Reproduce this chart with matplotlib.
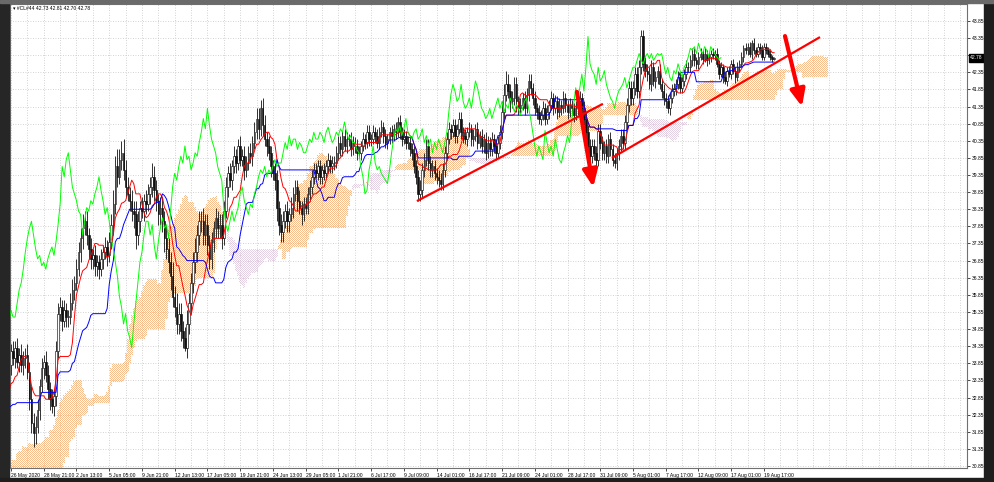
import numpy as np
import pandas as pd
import matplotlib
matplotlib.use('Agg')
import matplotlib.pyplot as plt
from matplotlib.patches import Rectangle

# ---------------- data ----------------
# off-screen history (bars -78..-1) needed to seed the Ichimoku lines at the left edge
pre_close = [24.8, 25.1, 24.9, 25.3, 25.6, 25.2, 24.9, 25.4, 25.8, 26.1, 25.7, 25.3,
             25.0, 24.7, 25.2, 25.6, 25.4, 25.9, 26.3, 26.0, 25.7, 26.2, 26.6, 27.1,
             27.5, 27.2, 27.8, 28.3, 28.0, 28.7, 29.2, 29.0, 29.6, 30.1, 29.8, 30.3, 30.7, 30.4, 30.9,
             31.3, 30.9, 31.5, 31.8, 31.4, 31.9, 32.2, 31.8, 31.5, 31.9, 32.3, 32.0, 31.7, 32.1,
             31.8, 31.6, 31.9, 31.7,
             31.5, 31.8, 31.4, 31.6, 31.3, 31.5, 31.2, 31.0, 31.3, 31.1,
             31.6, 32.0, 32.4, 32.3, 32.8, 32.6, 33.1, 33.5, 33.9, 34.1, 33.8]
pre_wick_up = [.3, .2, .3, .2, .3, .2, .3, .2, .3, .2, .3, .2,
               .3, .2, .3, .2, .3, .2, .3, .2, .3, .2, .3, .2,
               .3, .2, .3, .2, .3, .2, .3, .2, .3, .2, .3, .2,
               .3, .2, .3, .2, .3, .2, .3, .2, .3, .2, .3, .2,
               .3, .2, .3, .2, .3, .2, .3, .2, .3, .2, .3, .2,
               .2, .2, .2, .2, .2, .2, .2, .2, .2, .2,
               .2, .2, .2, .2, .2, .2, .2, .2]
pre_wick_dn = [.2, .3, .2, .3, .2, .3, .2, .3, .2, .3, .2, .3,
               .2, .3, .2, .3, .2, .3, .2, .3, .2, .3, .2, .3,
               .2, .3, .2, .3, .2, .3, .2, .3, .2, .3, .2, .3,
               .2, .3, .2, .3, .2, .3, .2, .3, .2, .3, .2, .3,
               .2, .3, .2, .3, .2, .3, .2, .3, .2, .3, .2, .3,
               .2, .2, .2, .2, .2, .2, .3, .1, .1, .2,
               .2, .2, .2, .2, .2, .2, .2, .2]
first_open = 24.6

# visible H4 bars, 26 May 2020 .. 20 Aug 2020
close = [34.2, 34.0, 34.3, 33.9, 34.1, 33.8, 34.0, 34.1,
         33.6, 32.8, 32.1, 31.8, 32.0,
         32.5, 33.2, 33.7, 33.9, 33.5,
         33.1, 32.8, 32.6, 32.9,
         34.2, 35.3, 35.5,
         35.1, 35.4, 35.2,
         35.2, 35.6, 36.0, 36.2, 36.6, 37.1, 37.5, 37.8, 38.0, 37.6, 37.2,
         36.9, 37.0, 36.7, 36.8, 36.6, 36.9, 37.1, 37.25, 37.0, 37.4, 37.9,
         38.5, 39.6, 39.3, 39.8, 40.0, 39.5, 39.0, 38.8, 38.6, 38.3, 38.2,
         37.6, 38.0, 38.4, 38.3, 38.6, 38.5, 38.8, 39.0, 39.3, 38.9,
         38.6, 38.2, 38.4, 38.0, 37.5, 37.2, 36.8, 36.4, 35.8, 35.5,
         35.0, 35.3, 34.8, 34.6, 34.3, 35.0, 35.6, 36.2, 36.8, 37.1, 37.6, 38.0,
         38.0, 37.6, 37.9, 37.3, 36.9, 37.4, 37.8, 38.1, 37.8, 37.9, 37.5, 38.3,
         39.0, 39.4, 39.2, 39.6, 39.9, 39.7, 40.2, 39.8, 39.9,
         39.5, 39.7, 40.0, 39.9, 40.3, 40.6,
         41.0, 40.7, 41.3, 40.8, 40.4,
         40.2, 40.0, 39.6, 39.4, 39.2,
         38.4, 37.9, 37.7, 38.0, 38.3, 38.0, 38.2,
         38.4, 38.8, 39.0, 38.6, 38.4, 38.2, 38.5, 38.4, 38.8, 39.0,
         39.3, 39.5, 39.4, 39.6, 39.3, 39.5, 39.4, 39.6, 39.8, 39.6, 39.7,
         39.7, 40.0, 40.3, 40.1, 40.5, 40.2, 40.4, 40.4,
         40.1, 40.3, 40.2, 40.0, 40.0, 40.2, 40.4, 40.3, 40.6, 40.4,
         40.4, 40.6, 40.5, 40.3, 40.6, 40.75, 40.5, 40.3, 40.4, 40.6,
         40.5, 40.7, 40.6, 40.9, 40.6, 40.4, 40.5, 40.3, 40.3, 40.1,
         40.0, 39.6, 39.3, 38.8, 38.9,
         39.5, 39.8, 40.2, 39.7, 39.5, 39.6, 39.4, 39.3, 39.2, 39.1, 39.5,
         40.0, 40.4, 40.7, 40.6, 40.8, 40.5, 40.7, 41.0, 40.6, 40.5, 40.4,
         40.6, 40.7, 40.4, 40.5, 40.7, 40.3, 40.5, 40.2, 40.4, 40.0, 40.3, 40.1, 40.4,
         40.2, 40.0, 40.3, 40.6,
         41.2, 41.7, 42.0, 41.8, 41.5,
         41.6, 42.0, 41.5, 41.3, 41.4, 41.6, 41.3, 41.7, 42.1,
         41.9, 41.6, 41.3,
         41.2, 41.0, 41.1, 41.3, 41.0, 41.2, 41.4,
         41.6, 41.3, 41.5, 41.2, 41.4, 41.3, 41.6, 41.4, 41.2, 41.4, 41.3, 41.1, 41.3,
         41.5, 41.6, 41.3, 41.0, 40.6,
         40.2, 39.9, 40.2, 40.0, 39.8,
         40.65, 40.3, 40.0, 40.2, 39.9, 40.4, 40.1, 39.8, 39.7, 40.0,
         40.2, 40.5, 40.3, 40.9, 41.4, 41.9,
         41.6, 41.9, 42.3, 41.8, 42.5,
         43.4, 42.6, 42.4,
         42.3, 42.0, 42.5, 42.1, 42.2, 42.4, 42.0, 41.8, 41.6,
         41.5, 41.3, 41.6, 41.8, 41.9,
         42.0, 42.2, 41.9, 42.1, 42.3, 42.5,
         42.5, 42.7, 42.9, 42.7, 42.6, 42.8, 42.9,
         42.75, 42.9, 42.7, 42.8, 42.9, 42.85, 42.9, 42.6,
         42.3, 42.5, 42.2, 42.1, 42.4, 42.3, 42.6, 42.4, 42.2,
         42.5, 42.6, 42.8, 43.05,
         43.0, 43.1, 42.9, 43.2, 43.0,
         42.9, 43.1, 43.0, 42.8, 43.1, 43.0, 42.9, 42.8, 42.73, 42.78]

wick_up = [.2, .3, .2, .3, .2, .3, .2, .2, .3, .3, .4, .3, .3, .3, .2, .3, .2, .3, .3, .2,
           .3, .2, .3, .3, .3, .2, .3, .2, .2, .3, .3, .2, .3, .3, .3, .4, .3, .3, .2, .3,
           .2, .3, .2, .2, .3, .2, .3, .2, .3, .3, .4, .3, .5, .3, .35, .4, .3, .3, .2, .3,
           .3, .4, .3, .2, .3, .2, .3, .3, .3, .4, .3, .3, .2, .3, .3, .3, .4, .3, .3, .4,
           .3, .4, .3, .3, .3, .3, .4, .3, .3, .3, .4, .3, .3, .3, .4, .3, .3, .3, .3, .2,
           .3, .2, .3, .3, .3, .3, .2, .3, .2, .3, .2, .2, .3, .2, .3, .2, .2, .3, .2, .3,
           .3, .3, .25, .3, .3, .2, .3, .2, .2, .3, .3, .2, .3, .3, .2, .3, .2, .3, .2, .2,
           .2, .3, .2, .2, .2, .2, .2, .2, .2, .2, .2, .2, .15, .2, .2, .2, .15, .2, .2, .2,
           .2, .2, .15, .2, .2, .15, .2, .2, .15, .2, .2, .15, .2, .15, .2, .2, .15, .2, .15, .2,
           .15, .2, .15, .2, .15, .15, .2, .15, .2, .15, .2, .15, .2, .15, .2, .2, .2, .2, .2, .2,
           .3, .2, .2, .2, .2, .2, .2, .2, .15, .2, .2, .2, .2, .2, .2, .15, .2, .2, .15, .2,
           .2, .15, .2, .15, .2, .15, .2, .15, .2, .15, .2, .15, .2, .2, .15, .2, .15, .2, .2, .2,
           .3, .3, .4, .3, .2, .2, .2, .2, .15, .2, .15, .2, .2, .2, .2, .15, .2, .15, .2, .15,
           .2, .15, .2, .15, .2, .15, .2, .15, .2, .15, .2, .15, .15, .2, .15, .15, .2, .15, .2, .15,
           .2, .2, .2, .2, .2, .2, .2, .2, .2, .2, .15, .2, .15, .2, .15, .2, .15, .2, .2, .2,
           .2, .2, .2, .2, .2, .2, .2, .2, .2, .2, .2, .2, .2, .2, .15, .2, .15, .2, .15, .2,
           .15, .2, .15, .2, .15, .15, .2, .15, .15, .15, .2, .15, .15, .15, .15, .1, .15, .15, .1, .15,
           .1, .15, .1, .15, .1, .15, .1, .15, .1, .15, .1, .15, .1, .15, .1, .15, .1, .15, .1, .15,
           .1, .15, .1, .15, .1, .1, .1, .15, .1, .1, .1, .1, .05, .03]

wick_dn = [.3, .2, .3, .2, .3, .2, .3, .3, .2, .3, .3, .4, .3, .2, .3, .2, .3, .2, .3, .3,
           .2, .3, .3, .2, .2, .3, .2, .3, .3, .2, .2, .3, .2, .2, .3, .3, .2, .3, .3, .3,
           .3, .3, .3, .3, .2, .3, .2, .3, .2, .2, .3, .3, .3, .2, .3, .3, .3, .2, .3, .3,
           .4, .4, .3, .3, .2, .3, .3, .2, .3, .3, .3, .3, .3, .3, .3, .4, .3, .3, .4, .3,
           .3, .3, .3, .3, .3, .1, .3, .3, .3, .3, .3, .3, .3, .3, .3, .3, .3, .3, .3, .3,
           .3, .3, .3, .3, .2, .2, .3, .2, .3, .2, .3, .2, .2, .2, .3, .2, .2, .2, .3, .2,
           .2, .3, .2, .3, .2, .3, .2, .3, .2, .3, .4, .3, .3, .3, .2, .3, .3, .2, .3, .2,
           .3, .2, .3, .2, .2, .2, .2, .2, .2, .15, .2, .2, .2, .2, .15, .2, .2, .2, .2, .15,
           .2, .2, .2, .15, .2, .2, .2, .15, .2, .2, .15, .2, .15, .2, .15, .2, .2, .15, .2, .15,
           .2, .15, .2, .15, .2, .15, .2, .15, .2, .15, .2, .2, .15, .2, .2, .2, .2, .2, .2, .2,
           .2, .2, .2, .2, .2, .2, .2, .2, .2, .2, .2, .2, .2, .2, .15, .2, .15, .2, .2, .15,
           .2, .2, .15, .2, .15, .2, .2, .15, .2, .15, .2, .2, .2, .15, .2, .2, .2, .2, .15, .2,
           .2, .2, .2, .2, .3, .2, .2, .3, .2, .2, .15, .2, .15, .2, .2, .2, .2, .2, .15, .2,
           .15, .2, .15, .2, .15, .2, .15, .2, .15, .2, .15, .2, .2, .15, .2, .2, .15, .2, .15, .2,
           .2, .2, .2, .2, .2, .2, .2, .2, .2, .2, .2, .2, .2, .2, .2, .15, .2, .2, .15, .2,
           .2, .2, .2, .2, .2, .2, .2, .2, .2, .2, .2, .2, .15, .2, .15, .2, .2, .15, .2, .2,
           .2, .15, .2, .15, .15, .2, .15, .15, .15, .15, .15, .15, .15, .15, .15, .15, .15, .1, .15, .1,
           .15, .1, .15, .1, .15, .1, .15, .1, .15, .1, .15, .1, .15, .1, .15, .1, .15, .1, .15, .1,
           .15, .1, .15, .1, .1, .1, .1, .1, .1, .1, .1, .1, .08, .03]

time_labels = ["26 May 2020", "28 May 21:00", "2 Jun 13:00", "5 Jun 05:00", "9 Jun 21:00",
               "12 Jun 13:00", "17 Jun 05:00", "19 Jun 21:00", "24 Jun 13:00", "29 Jun 05:00",
               "1 Jul 21:00", "6 Jul 17:00", "9 Jul 09:00", "14 Jul 01:00", "16 Jul 17:00",
               "21 Jul 09:00", "24 Jul 01:00", "28 Jul 17:00", "31 Jul 09:00", "5 Aug 01:00",
               "7 Aug 17:00", "12 Aug 09:00", "17 Aug 01:00", "19 Aug 17:00"]
price_ticks = [30.85, 31.35, 31.85, 32.35, 32.85, 33.35, 33.85, 34.35, 34.85, 35.35,
               35.85, 36.35, 36.85, 37.35, 37.85, 38.35, 38.85, 39.35, 39.85, 40.35,
               40.85, 41.35, 41.85, 42.35, 42.85, 43.35, 43.85]
last_price = 42.78
title_text = "#CL#44 42.73 42.81 42.70 42.78"

# hand-drawn analysis objects (bar index, price)
trend1_x, trend1_y = [198.4, 289.3], [38.59, 41.43]
trend2_x, trend2_y = [293.7, 395.4], [39.85, 43.38]
arrow1_from, arrow1_to = (276.6, 41.78), (284.6, 39.0)
arrow2_from, arrow2_to = (378.3, 43.41), (386.6, 41.35)

# ---------------- build OHLC + Ichimoku ----------------
c = np.array(pre_close + close, dtype=float)
o = np.concatenate([[first_open], c[:-1]])
h = np.maximum(o, c) + np.array(pre_wick_up + wick_up)
l = np.minimum(o, c) - np.array(pre_wick_dn + wick_dn)
x = np.arange(-len(pre_close), len(close))

H = pd.Series(h)
L = pd.Series(l)
tenkan = ((H.rolling(9).max() + L.rolling(9).min()) / 2).values
kijun = ((H.rolling(26).max() + L.rolling(26).min()) / 2).values
spanA = (tenkan + kijun) / 2
spanB = ((H.rolling(52).max() + L.rolling(52).min()) / 2).values
xs = x + 26

# ---------------- figure ----------------
W, Hp = 994, 482
AXW, AXH = 967 - 10, 468 - 4
fig = plt.figure(figsize=(W / 100, Hp / 100), dpi=100, facecolor='white')
ax = fig.add_axes([10 / W, (Hp - 468) / Hp, AXW / W, AXH / Hp])
ax.set_facecolor('white')

px_per_bar = 2.046
xl0 = -0.49
xl1 = xl0 + AXW / px_per_bar
ylo, yhi = 30.791, 44.347
ax.set_xlim(xl0, xl1)
ax.set_ylim(ylo, yhi)
px_per_price = AXH / (yhi - ylo)

# grid
for p in price_ticks:
    ax.axhline(p, color='#c4c4c4', lw=0.6, ls=(0, (1, 2)), zorder=0)
for g in range(0, 470, 8):
    ax.axvline(g, color='#c4c4c4', lw=0.6, ls=(0, (1, 2)), zorder=0)

# cloud: MT4-style dotted hatching rendered pixel-exact between span A and span B
img = np.zeros((AXH, AXW, 4))
row_price = yhi - (np.arange(AXH) + 0.5) / px_per_price
colors_rgba = {True: np.array([244, 164, 96, 255]) / 255.0,
               False: np.array([216, 191, 216, 255]) / 255.0}
for col in range(AXW):
    t = int(round(xl0 + (col + 0.5) / px_per_bar))
    i = t - xs[0]
    if i < 0 or i >= len(xs):
        continue
    a, b = spanA[i], spanB[i]
    if np.isnan(a) or np.isnan(b):
        continue
    lo, hi = min(a, b), max(a, b)
    rows = np.where((row_price >= lo) & (row_price <= hi)
                    & ((np.arange(AXH) + col) % 2 == 0))[0]
    img[rows, col] = colors_rgba[bool(a >= b)]
ax.imshow(img, extent=(xl0, xl1, ylo, yhi), origin='upper', aspect='auto',
          interpolation='nearest', alpha=0.72, zorder=1)

# candles
ax.vlines(x, l, h, colors='#111111', lw=0.6, zorder=2)
up = c >= o
body_lo = np.minimum(o, c)
body_h = np.maximum(np.abs(c - o), 0.02)
ax.bar(x[up], body_h[up], bottom=body_lo[up], width=0.75, color='white',
       edgecolor='#111111', linewidth=0.45, zorder=2)
ax.bar(x[~up], body_h[~up], bottom=body_lo[~up], width=0.75, color='#111111',
       edgecolor='#111111', linewidth=0.45, zorder=2)

# ichimoku lines
vis = x >= 0
ax.plot(x, tenkan, color='#ff0000', lw=0.7, zorder=3)
ax.plot(x, kijun, color='#0000ff', lw=0.7, zorder=3)
ax.plot(x[vis] - 26, c[vis], color='#00ff00', lw=0.7, zorder=3)

# analysis drawings
ax.plot(trend1_x, trend1_y, color='#ff0000', lw=1.6, zorder=4, solid_capstyle='butt')
ax.plot(trend2_x, trend2_y, color='#ff0000', lw=1.6, zorder=4, solid_capstyle='butt')
for a_from, a_to in [(arrow1_from, arrow1_to), (arrow2_from, arrow2_to)]:
    ax.annotate('', xy=a_to, xytext=a_from,
                arrowprops=dict(arrowstyle='-|>,head_length=0.5,head_width=0.22',
                                color='#ff0000', lw=3, mutation_scale=20,
                                shrinkA=0, shrinkB=0),
                zorder=5)

# axes / ticks
tick_font = dict(family=['Liberation Sans', 'DejaVu Sans'], size=3.6)
ax.yaxis.tick_right()
ax.set_yticks(price_ticks)
ax.set_yticklabels(['' if abs(p - 42.85) < 1e-6 else f"{p:.2f}" for p in price_ticks],
                   fontdict=tick_font)
ax.set_xticks(np.arange(len(time_labels)) * 16)
ax.set_xticklabels(time_labels, fontdict=tick_font, ha='left')
ax.tick_params(axis='y', direction='out', length=2.5, width=0.5, pad=1.2, colors='black')
ax.tick_params(axis='x', direction='out', length=2.5, width=0.5, pad=1.0, colors='black')
for s in ax.spines.values():
    s.set_color('#707070')
    s.set_linewidth(0.8)

# current price box
ax.annotate(f"{last_price:.2f}", xy=(1.0, last_price), xycoords=('axes fraction', 'data'),
            xytext=(2.2, 0), textcoords='offset points', ha='left', va='center',
            color='white', fontsize=3.6, family=['Liberation Sans', 'DejaVu Sans'],
            bbox=dict(boxstyle='square,pad=0.3', fc='black', ec='black'),
            annotation_clip=False)

# symbol title
fig.text(13 / W, 1 - 9 / Hp, "\u25be " + title_text, fontsize=3.6,
         family=['Liberation Sans', 'DejaVu Sans'], va='center', ha='left', color='black')

# window frame strips
fig.patches.append(Rectangle((0, 0), 9 / W, 1, transform=fig.transFigure,
                             color='#262626', zorder=10))
fig.patches.append(Rectangle((984 / W, 0), 10 / W, 1, transform=fig.transFigure,
                             color='#1e1e1e', zorder=10))
fig.patches.append(Rectangle((0, 0), 1, 4 / Hp, transform=fig.transFigure,
                             color='#1e1e1e', zorder=10))
fig.patches.append(Rectangle((0, 1 - 3 / Hp), 1, 3 / Hp, transform=fig.transFigure,
                             color='#6a6a6a', zorder=10))

fig.savefig('out.png', dpi=100, facecolor='white')
